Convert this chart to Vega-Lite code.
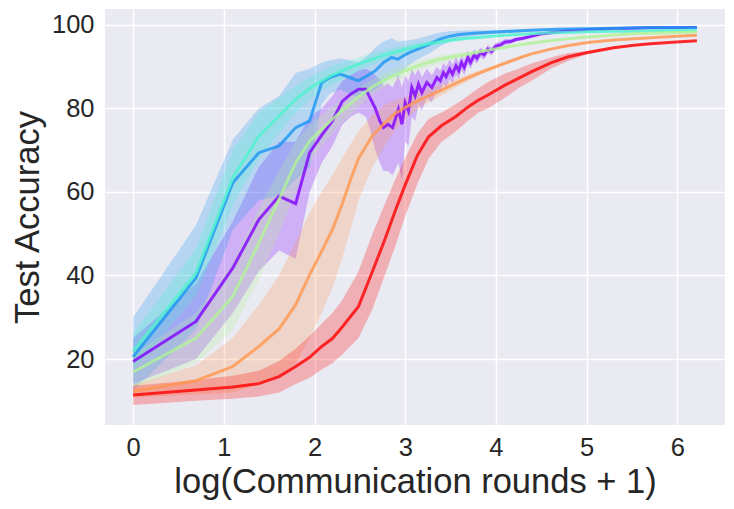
{
  "$schema": "https://vega.github.io/schema/vega-lite/v6.json",
  "width": 620,
  "height": 416,
  "autosize": {"type": "none"},
  "padding": {"left": 105, "top": 9, "right": 9, "bottom": 84},
  "background": "white",
  "data": {
    "values": [
      {"s": "s1", "x": 0, "y": 19.4, "lo": 14, "hi": 25},
      {"s": "s1", "x": 0.693, "y": 29, "lo": 20, "hi": 38},
      {"s": "s1", "x": 1.099, "y": 41.8, "lo": 31, "hi": 53},
      {"s": "s1", "x": 1.386, "y": 53.4, "lo": 41, "hi": 66},
      {"s": "s1", "x": 1.609, "y": 59, "lo": 46, "hi": 72},
      {"s": "s1", "x": 1.792, "y": 57.2, "lo": 44, "hi": 72},
      {"s": "s1", "x": 1.946, "y": 69.4, "lo": 60, "hi": 78},
      {"s": "s1", "x": 2.079, "y": 73.6, "lo": 67, "hi": 80},
      {"s": "s1", "x": 2.197, "y": 77, "lo": 71, "hi": 83},
      {"s": "s1", "x": 2.303, "y": 81.6, "lo": 76, "hi": 86.5},
      {"s": "s1", "x": 2.398, "y": 83.4, "lo": 78, "hi": 88},
      {"s": "s1", "x": 2.485, "y": 84.6, "lo": 79, "hi": 89},
      {"s": "s1", "x": 2.565, "y": 84.6, "lo": 78, "hi": 89.5},
      {"s": "s1", "x": 2.61, "y": 82.6, "lo": 75, "hi": 89},
      {"s": "s1", "x": 2.67, "y": 80, "lo": 70, "hi": 88},
      {"s": "s1", "x": 2.72, "y": 77, "lo": 67, "hi": 87},
      {"s": "s1", "x": 2.76, "y": 75.4, "lo": 65, "hi": 85.5},
      {"s": "s1", "x": 2.81, "y": 76.2, "lo": 65, "hi": 86},
      {"s": "s1", "x": 2.86, "y": 75.4, "lo": 64, "hi": 85},
      {"s": "s1", "x": 2.925, "y": 79.8, "lo": 67, "hi": 88},
      {"s": "s1", "x": 2.963, "y": 76.2, "lo": 63, "hi": 85},
      {"s": "s1", "x": 2.999, "y": 81.4, "lo": 72, "hi": 88},
      {"s": "s1", "x": 3.035, "y": 79.4, "lo": 71, "hi": 86.5},
      {"s": "s1", "x": 3.072, "y": 85, "lo": 78, "hi": 89.5},
      {"s": "s1", "x": 3.109, "y": 83, "lo": 77, "hi": 88},
      {"s": "s1", "x": 3.146, "y": 85.8, "lo": 81, "hi": 89.5},
      {"s": "s1", "x": 3.183, "y": 83.8, "lo": 79.5, "hi": 87.5},
      {"s": "s1", "x": 3.238, "y": 86.2, "lo": 82.5, "hi": 89.5},
      {"s": "s1", "x": 3.293, "y": 85, "lo": 81.5, "hi": 88},
      {"s": "s1", "x": 3.349, "y": 87.4, "lo": 84.5, "hi": 90},
      {"s": "s1", "x": 3.385, "y": 86.6, "lo": 84, "hi": 89},
      {"s": "s1", "x": 3.42, "y": 88.6, "lo": 86, "hi": 91},
      {"s": "s1", "x": 3.45, "y": 87.6, "lo": 85, "hi": 90},
      {"s": "s1", "x": 3.49, "y": 89.4, "lo": 87, "hi": 91.8},
      {"s": "s1", "x": 3.52, "y": 88.2, "lo": 86, "hi": 90.5},
      {"s": "s1", "x": 3.56, "y": 90.2, "lo": 88, "hi": 92.3},
      {"s": "s1", "x": 3.59, "y": 89, "lo": 87, "hi": 91},
      {"s": "s1", "x": 3.62, "y": 91, "lo": 89.2, "hi": 92.8},
      {"s": "s1", "x": 3.65, "y": 89.8, "lo": 88, "hi": 91.6},
      {"s": "s1", "x": 3.69, "y": 92.2, "lo": 90.6, "hi": 93.8},
      {"s": "s1", "x": 3.72, "y": 91, "lo": 89.5, "hi": 92.5},
      {"s": "s1", "x": 3.76, "y": 92.8, "lo": 91.4, "hi": 94.2},
      {"s": "s1", "x": 3.79, "y": 92, "lo": 90.7, "hi": 93.3},
      {"s": "s1", "x": 3.83, "y": 93.4, "lo": 92.2, "hi": 94.6},
      {"s": "s1", "x": 3.87, "y": 92.8, "lo": 91.7, "hi": 93.9},
      {"s": "s1", "x": 3.91, "y": 94.2, "lo": 93.2, "hi": 95.2},
      {"s": "s1", "x": 3.95, "y": 93.6, "lo": 92.7, "hi": 94.5},
      {"s": "s1", "x": 4.0, "y": 94.9, "lo": 94, "hi": 95.8},
      {"s": "s1", "x": 4.05, "y": 95.2, "lo": 94.4, "hi": 96},
      {"s": "s1", "x": 4.1, "y": 95.9, "lo": 95.2, "hi": 96.6},
      {"s": "s1", "x": 4.16, "y": 96, "lo": 95.4, "hi": 96.6},
      {"s": "s1", "x": 4.22, "y": 96.5, "lo": 96, "hi": 97},
      {"s": "s1", "x": 4.3, "y": 96.8, "lo": 96.4, "hi": 97.2},
      {"s": "s1", "x": 4.38, "y": 97.2, "lo": 96.9, "hi": 97.5},
      {"s": "s1", "x": 4.49, "y": 97.8, "lo": 97.5, "hi": 98.1},
      {"s": "s1", "x": 4.605, "y": 98.1, "lo": 97.9, "hi": 98.3},
      {"s": "s1", "x": 4.787, "y": 98.6, "lo": 98.4, "hi": 98.8},
      {"s": "s1", "x": 5.011, "y": 98.9, "lo": 98.7, "hi": 99.1},
      {"s": "s1", "x": 5.298, "y": 99.1, "lo": 99, "hi": 99.2},
      {"s": "s1", "x": 5.521, "y": 99.2, "lo": 99.1, "hi": 99.3},
      {"s": "s1", "x": 5.704, "y": 99.3, "lo": 99.2, "hi": 99.4},
      {"s": "s1", "x": 5.991, "y": 99.35, "lo": 99.25, "hi": 99.45},
      {"s": "s1", "x": 6.215, "y": 99.4, "lo": 99.3, "hi": 99.5},

      {"s": "s2", "x": 0, "y": 20.5, "lo": 12.5, "hi": 30},
      {"s": "s2", "x": 0.693, "y": 39.4, "lo": 27, "hi": 52},
      {"s": "s2", "x": 1.099, "y": 62.2, "lo": 51, "hi": 72.5},
      {"s": "s2", "x": 1.386, "y": 69.4, "lo": 58, "hi": 80},
      {"s": "s2", "x": 1.609, "y": 71, "lo": 59, "hi": 83},
      {"s": "s2", "x": 1.792, "y": 75.4, "lo": 63, "hi": 88.5},
      {"s": "s2", "x": 1.946, "y": 77, "lo": 66, "hi": 89.5},
      {"s": "s2", "x": 2.079, "y": 86.2, "lo": 81, "hi": 91},
      {"s": "s2", "x": 2.17, "y": 87.4, "lo": 83.5, "hi": 91.5},
      {"s": "s2", "x": 2.28, "y": 88.2, "lo": 84.5, "hi": 92},
      {"s": "s2", "x": 2.39, "y": 87.4, "lo": 83.5, "hi": 91.5},
      {"s": "s2", "x": 2.48, "y": 86.6, "lo": 82.5, "hi": 91},
      {"s": "s2", "x": 2.58, "y": 87.8, "lo": 83.5, "hi": 92.5},
      {"s": "s2", "x": 2.67, "y": 89, "lo": 84.5, "hi": 94.5},
      {"s": "s2", "x": 2.76, "y": 91, "lo": 86, "hi": 96},
      {"s": "s2", "x": 2.85, "y": 92.2, "lo": 87.5, "hi": 96.8},
      {"s": "s2", "x": 2.92, "y": 91.8, "lo": 87.5, "hi": 96},
      {"s": "s2", "x": 2.98, "y": 92.6, "lo": 89, "hi": 96.2},
      {"s": "s2", "x": 3.05, "y": 93.4, "lo": 90.5, "hi": 96.3},
      {"s": "s2", "x": 3.16, "y": 94.4, "lo": 92, "hi": 96.8},
      {"s": "s2", "x": 3.27, "y": 95.4, "lo": 93.2, "hi": 97.5},
      {"s": "s2", "x": 3.38, "y": 96.6, "lo": 94.8, "hi": 98.2},
      {"s": "s2", "x": 3.49, "y": 97.3, "lo": 96, "hi": 98.5},
      {"s": "s2", "x": 3.6, "y": 97.7, "lo": 96.7, "hi": 98.6},
      {"s": "s2", "x": 3.75, "y": 98, "lo": 97.3, "hi": 98.7},
      {"s": "s2", "x": 3.9, "y": 98.2, "lo": 97.7, "hi": 98.7},
      {"s": "s2", "x": 4.094, "y": 98.4, "lo": 98, "hi": 98.8},
      {"s": "s2", "x": 4.382, "y": 98.7, "lo": 98.4, "hi": 99},
      {"s": "s2", "x": 4.605, "y": 98.9, "lo": 98.7, "hi": 99.1},
      {"s": "s2", "x": 4.787, "y": 99, "lo": 98.85, "hi": 99.15},
      {"s": "s2", "x": 5.011, "y": 99.1, "lo": 99, "hi": 99.2},
      {"s": "s2", "x": 5.298, "y": 99.2, "lo": 99.1, "hi": 99.3},
      {"s": "s2", "x": 5.521, "y": 99.3, "lo": 99.2, "hi": 99.4},
      {"s": "s2", "x": 5.704, "y": 99.35, "lo": 99.25, "hi": 99.45},
      {"s": "s2", "x": 5.991, "y": 99.4, "lo": 99.3, "hi": 99.5},
      {"s": "s2", "x": 6.215, "y": 99.4, "lo": 99.3, "hi": 99.5},

      {"s": "s3", "x": 0, "y": 21.8, "lo": 17.5, "hi": 26},
      {"s": "s3", "x": 0.693, "y": 40.6, "lo": 35, "hi": 46.5},
      {"s": "s3", "x": 1.099, "y": 63.4, "lo": 57, "hi": 70},
      {"s": "s3", "x": 1.386, "y": 73.4, "lo": 68, "hi": 79},
      {"s": "s3", "x": 1.609, "y": 78.2, "lo": 74, "hi": 82.5},
      {"s": "s3", "x": 1.792, "y": 82.2, "lo": 79, "hi": 85.5},
      {"s": "s3", "x": 1.946, "y": 84.8, "lo": 82, "hi": 87.5},
      {"s": "s3", "x": 2.079, "y": 86.6, "lo": 84.2, "hi": 89},
      {"s": "s3", "x": 2.197, "y": 88, "lo": 85.8, "hi": 90.2},
      {"s": "s3", "x": 2.303, "y": 89, "lo": 87, "hi": 91},
      {"s": "s3", "x": 2.398, "y": 89.8, "lo": 88, "hi": 91.6},
      {"s": "s3", "x": 2.485, "y": 90.6, "lo": 89, "hi": 92.2},
      {"s": "s3", "x": 2.639, "y": 91.8, "lo": 90.4, "hi": 93.2},
      {"s": "s3", "x": 2.773, "y": 92.8, "lo": 91.6, "hi": 94},
      {"s": "s3", "x": 2.89, "y": 93.5, "lo": 92.4, "hi": 94.6},
      {"s": "s3", "x": 2.996, "y": 94.1, "lo": 93.1, "hi": 95.1},
      {"s": "s3", "x": 3.135, "y": 94.9, "lo": 94, "hi": 95.8},
      {"s": "s3", "x": 3.258, "y": 95.5, "lo": 94.8, "hi": 96.2},
      {"s": "s3", "x": 3.401, "y": 96, "lo": 95.4, "hi": 96.6},
      {"s": "s3", "x": 3.555, "y": 96.5, "lo": 96, "hi": 97},
      {"s": "s3", "x": 3.689, "y": 96.8, "lo": 96.4, "hi": 97.2},
      {"s": "s3", "x": 3.807, "y": 97, "lo": 96.7, "hi": 97.3},
      {"s": "s3", "x": 3.912, "y": 97.2, "lo": 96.9, "hi": 97.5},
      {"s": "s3", "x": 4.094, "y": 97.5, "lo": 97.3, "hi": 97.7},
      {"s": "s3", "x": 4.248, "y": 97.7, "lo": 97.5, "hi": 97.9},
      {"s": "s3", "x": 4.382, "y": 97.9, "lo": 97.7, "hi": 98.1},
      {"s": "s3", "x": 4.605, "y": 98.1, "lo": 97.95, "hi": 98.25},
      {"s": "s3", "x": 4.787, "y": 98.2, "lo": 98.05, "hi": 98.35},
      {"s": "s3", "x": 5.011, "y": 98.35, "lo": 98.2, "hi": 98.5},
      {"s": "s3", "x": 5.298, "y": 98.45, "lo": 98.3, "hi": 98.6},
      {"s": "s3", "x": 5.521, "y": 98.5, "lo": 98.4, "hi": 98.6},
      {"s": "s3", "x": 5.704, "y": 98.6, "lo": 98.5, "hi": 98.7},
      {"s": "s3", "x": 5.991, "y": 98.65, "lo": 98.55, "hi": 98.75},
      {"s": "s3", "x": 6.215, "y": 98.7, "lo": 98.6, "hi": 98.8},

      {"s": "s4", "x": 0, "y": 16.9, "lo": 13, "hi": 21},
      {"s": "s4", "x": 0.693, "y": 25, "lo": 19, "hi": 31},
      {"s": "s4", "x": 1.099, "y": 35, "lo": 27, "hi": 43},
      {"s": "s4", "x": 1.386, "y": 47.8, "lo": 39, "hi": 56},
      {"s": "s4", "x": 1.609, "y": 58.2, "lo": 50, "hi": 65},
      {"s": "s4", "x": 1.792, "y": 67, "lo": 60, "hi": 72},
      {"s": "s4", "x": 1.946, "y": 72.2, "lo": 67, "hi": 76},
      {"s": "s4", "x": 2.079, "y": 75, "lo": 71, "hi": 78.5},
      {"s": "s4", "x": 2.197, "y": 77.4, "lo": 74, "hi": 80.5},
      {"s": "s4", "x": 2.303, "y": 79.5, "lo": 76.5, "hi": 82.2},
      {"s": "s4", "x": 2.398, "y": 81.2, "lo": 78.5, "hi": 83.6},
      {"s": "s4", "x": 2.485, "y": 82.8, "lo": 80.4, "hi": 85},
      {"s": "s4", "x": 2.639, "y": 85.2, "lo": 83.2, "hi": 87},
      {"s": "s4", "x": 2.773, "y": 86.8, "lo": 85, "hi": 88.4},
      {"s": "s4", "x": 2.89, "y": 88, "lo": 86.4, "hi": 89.5},
      {"s": "s4", "x": 2.996, "y": 89, "lo": 87.6, "hi": 90.3},
      {"s": "s4", "x": 3.135, "y": 90.2, "lo": 89, "hi": 91.3},
      {"s": "s4", "x": 3.258, "y": 91, "lo": 90, "hi": 92},
      {"s": "s4", "x": 3.401, "y": 91.9, "lo": 91, "hi": 92.7},
      {"s": "s4", "x": 3.555, "y": 92.5, "lo": 91.8, "hi": 93.2},
      {"s": "s4", "x": 3.689, "y": 93, "lo": 92.4, "hi": 93.6},
      {"s": "s4", "x": 3.807, "y": 93.5, "lo": 93, "hi": 94},
      {"s": "s4", "x": 3.912, "y": 93.9, "lo": 93.5, "hi": 94.3},
      {"s": "s4", "x": 4.094, "y": 94.6, "lo": 94.3, "hi": 94.9},
      {"s": "s4", "x": 4.248, "y": 95.2, "lo": 95, "hi": 95.4},
      {"s": "s4", "x": 4.382, "y": 95.6, "lo": 95.4, "hi": 95.8},
      {"s": "s4", "x": 4.605, "y": 96.2, "lo": 96.05, "hi": 96.35},
      {"s": "s4", "x": 4.787, "y": 96.7, "lo": 96.55, "hi": 96.85},
      {"s": "s4", "x": 5.011, "y": 97.1, "lo": 97, "hi": 97.2},
      {"s": "s4", "x": 5.298, "y": 97.6, "lo": 97.5, "hi": 97.7},
      {"s": "s4", "x": 5.521, "y": 97.9, "lo": 97.8, "hi": 98},
      {"s": "s4", "x": 5.704, "y": 98, "lo": 97.9, "hi": 98.1},
      {"s": "s4", "x": 5.991, "y": 98.2, "lo": 98.1, "hi": 98.3},
      {"s": "s4", "x": 6.215, "y": 98.3, "lo": 98.2, "hi": 98.4},

      {"s": "s5", "x": 0, "y": 12.3, "lo": 10.8, "hi": 13.8},
      {"s": "s5", "x": 0.693, "y": 14.8, "lo": 11.5, "hi": 18.5},
      {"s": "s5", "x": 1.099, "y": 18.2, "lo": 12, "hi": 25},
      {"s": "s5", "x": 1.386, "y": 23, "lo": 14, "hi": 33},
      {"s": "s5", "x": 1.609, "y": 27.2, "lo": 16, "hi": 40},
      {"s": "s5", "x": 1.792, "y": 33, "lo": 19, "hi": 48},
      {"s": "s5", "x": 1.946, "y": 40.2, "lo": 25, "hi": 55},
      {"s": "s5", "x": 2.079, "y": 45.8, "lo": 31, "hi": 60},
      {"s": "s5", "x": 2.197, "y": 51, "lo": 37, "hi": 64},
      {"s": "s5", "x": 2.303, "y": 57, "lo": 44, "hi": 68},
      {"s": "s5", "x": 2.398, "y": 63, "lo": 51, "hi": 71.5},
      {"s": "s5", "x": 2.485, "y": 68, "lo": 58, "hi": 74.5},
      {"s": "s5", "x": 2.639, "y": 73.5, "lo": 66, "hi": 78.5},
      {"s": "s5", "x": 2.773, "y": 76.5, "lo": 71, "hi": 80.8},
      {"s": "s5", "x": 2.89, "y": 78.8, "lo": 75, "hi": 82},
      {"s": "s5", "x": 2.996, "y": 80.2, "lo": 77.5, "hi": 82.6},
      {"s": "s5", "x": 3.135, "y": 81.8, "lo": 79.8, "hi": 83.8},
      {"s": "s5", "x": 3.258, "y": 83, "lo": 81.4, "hi": 84.6},
      {"s": "s5", "x": 3.401, "y": 84.4, "lo": 83.1, "hi": 85.7},
      {"s": "s5", "x": 3.555, "y": 86, "lo": 85, "hi": 87},
      {"s": "s5", "x": 3.689, "y": 87.3, "lo": 86.5, "hi": 88.1},
      {"s": "s5", "x": 3.807, "y": 88.4, "lo": 87.8, "hi": 89},
      {"s": "s5", "x": 3.912, "y": 89.3, "lo": 88.8, "hi": 89.8},
      {"s": "s5", "x": 4.094, "y": 90.8, "lo": 90.4, "hi": 91.2},
      {"s": "s5", "x": 4.248, "y": 92, "lo": 91.7, "hi": 92.3},
      {"s": "s5", "x": 4.382, "y": 93, "lo": 92.8, "hi": 93.2},
      {"s": "s5", "x": 4.605, "y": 94.2, "lo": 94, "hi": 94.4},
      {"s": "s5", "x": 4.787, "y": 95, "lo": 94.8, "hi": 95.2},
      {"s": "s5", "x": 5.011, "y": 95.8, "lo": 95.7, "hi": 95.9},
      {"s": "s5", "x": 5.298, "y": 96.4, "lo": 96.3, "hi": 96.5},
      {"s": "s5", "x": 5.521, "y": 96.7, "lo": 96.6, "hi": 96.8},
      {"s": "s5", "x": 5.704, "y": 96.9, "lo": 96.8, "hi": 97},
      {"s": "s5", "x": 5.991, "y": 97.3, "lo": 97.2, "hi": 97.4},
      {"s": "s5", "x": 6.215, "y": 97.5, "lo": 97.4, "hi": 97.6},

      {"s": "s6", "x": 0, "y": 11.4, "lo": 9, "hi": 13.6},
      {"s": "s6", "x": 0.693, "y": 12.6, "lo": 10, "hi": 15},
      {"s": "s6", "x": 1.099, "y": 13.3, "lo": 10.5, "hi": 16},
      {"s": "s6", "x": 1.386, "y": 14.1, "lo": 11, "hi": 17.2},
      {"s": "s6", "x": 1.609, "y": 15.8, "lo": 12, "hi": 19.5},
      {"s": "s6", "x": 1.792, "y": 18.2, "lo": 14, "hi": 22.5},
      {"s": "s6", "x": 1.946, "y": 20.4, "lo": 15.5, "hi": 25.5},
      {"s": "s6", "x": 2.079, "y": 23, "lo": 17.5, "hi": 28.5},
      {"s": "s6", "x": 2.197, "y": 24.9, "lo": 19, "hi": 31},
      {"s": "s6", "x": 2.303, "y": 27.6, "lo": 21, "hi": 34},
      {"s": "s6", "x": 2.485, "y": 32.6, "lo": 25, "hi": 41},
      {"s": "s6", "x": 2.639, "y": 41, "lo": 32, "hi": 50},
      {"s": "s6", "x": 2.773, "y": 48.5, "lo": 40, "hi": 57},
      {"s": "s6", "x": 2.89, "y": 55.5, "lo": 47, "hi": 63},
      {"s": "s6", "x": 2.996, "y": 61.5, "lo": 54, "hi": 68},
      {"s": "s6", "x": 3.135, "y": 68.8, "lo": 62, "hi": 74},
      {"s": "s6", "x": 3.258, "y": 73.2, "lo": 68, "hi": 77.5},
      {"s": "s6", "x": 3.401, "y": 75.9, "lo": 72, "hi": 79},
      {"s": "s6", "x": 3.555, "y": 78, "lo": 74.5, "hi": 81},
      {"s": "s6", "x": 3.689, "y": 80.3, "lo": 77, "hi": 83},
      {"s": "s6", "x": 3.807, "y": 82, "lo": 79, "hi": 84.8},
      {"s": "s6", "x": 3.912, "y": 83.2, "lo": 80, "hi": 86.3},
      {"s": "s6", "x": 4.094, "y": 85.5, "lo": 82.5, "hi": 88.3},
      {"s": "s6", "x": 4.248, "y": 87.2, "lo": 84.8, "hi": 89.5},
      {"s": "s6", "x": 4.382, "y": 88.7, "lo": 86.5, "hi": 90.7},
      {"s": "s6", "x": 4.605, "y": 90.9, "lo": 89.5, "hi": 92.2},
      {"s": "s6", "x": 4.787, "y": 92.3, "lo": 91.3, "hi": 93.2},
      {"s": "s6", "x": 5.011, "y": 93.4, "lo": 93, "hi": 93.8},
      {"s": "s6", "x": 5.298, "y": 94.5, "lo": 94.2, "hi": 94.8},
      {"s": "s6", "x": 5.521, "y": 95.1, "lo": 94.9, "hi": 95.3},
      {"s": "s6", "x": 5.704, "y": 95.5, "lo": 95.3, "hi": 95.7},
      {"s": "s6", "x": 5.991, "y": 95.9, "lo": 95.8, "hi": 96},
      {"s": "s6", "x": 6.215, "y": 96.2, "lo": 96.1, "hi": 96.3}
    ]
  },
  "encoding": {
    "x": {
      "field": "x",
      "type": "quantitative",
      "title": "log(Communication rounds + 1)",
      "scale": {"domain": [-0.31, 6.525], "nice": false, "zero": false},
      "axis": {"values": [0, 1, 2, 3, 4, 5, 6], "labelPadding": 10, "titlePadding": 5}
    },
    "color": {
      "field": "s",
      "type": "nominal",
      "legend": null,
      "scale": {
        "domain": ["s1", "s2", "s3", "s4", "s5", "s6"],
        "range": ["#8000ff", "#1a96f2", "#4df2ce", "#b2f296", "#ff964f", "#ff0000"]
      }
    }
  },
  "layer": [
    {
      "mark": {"type": "area", "opacity": 0.25},
      "encoding": {
        "y": {
          "field": "lo",
          "type": "quantitative",
          "title": "Test Accuracy",
          "scale": {"domain": [4.2, 103.8], "nice": false, "zero": false},
          "axis": {"values": [20, 40, 60, 80, 100], "labelPadding": 11, "titlePadding": 6}
        },
        "y2": {"field": "hi"}
      }
    },
    {
      "mark": {"type": "line", "strokeWidth": 3, "opacity": 0.8},
      "encoding": {
        "y": {"field": "y", "type": "quantitative"}
      }
    }
  ],
  "config": {
    "font": "Liberation Sans",
    "view": {"fill": "#EAEAF2", "stroke": null},
    "axis": {
      "domain": false,
      "ticks": false,
      "grid": true,
      "gridColor": "#ffffff",
      "gridWidth": 1.5,
      "gridOpacity": 1,
      "labelFont": "Liberation Sans",
      "labelFontSize": 25.5,
      "labelColor": "#262626",
      "titleFont": "Liberation Sans",
      "titleFontSize": 34.5,
      "titleFontWeight": "normal",
      "titleColor": "#262626"
    }
  }
}
